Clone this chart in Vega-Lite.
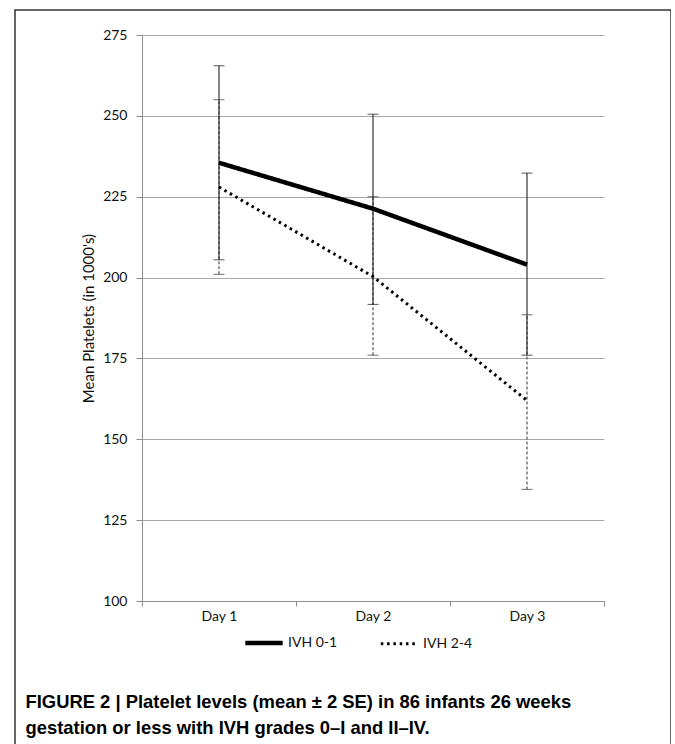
{
  "$schema": "https://vega.github.io/schema/vega-lite/v6.json",
  "autosize": "none",
  "padding": {"left": 15, "top": 10, "right": 0, "bottom": 0},
  "width": 656,
  "height": 745,
  "background": "white",
  "config": {
    "view": {"stroke": "#333333", "strokeWidth": 1.5},
    "font": "Lato",
    "axis": {
      "labelFont": "Lato",
      "labelFontSize": 14,
      "labelColor": "#111111",
      "domainColor": "#8c8c8c",
      "tickColor": "#8c8c8c",
      "gridColor": "#a8a8a8",
      "gridWidth": 1,
      "titleFont": "Lato",
      "titleFontWeight": "normal",
      "titleFontSize": 15,
      "titleColor": "#111111"
    }
  },
  "data": {
    "values": [
      {"day": "Day 1", "group": "IVH 2-4", "mean": 228, "lo": 201, "hi": 255},
      {"day": "Day 2", "group": "IVH 2-4", "mean": 200.3, "lo": 176, "hi": 225},
      {"day": "Day 3", "group": "IVH 2-4", "mean": 162, "lo": 134.5, "hi": 188.5},
      {"day": "Day 1", "group": "IVH 0-1", "mean": 235.5, "lo": 205.5, "hi": 265.5},
      {"day": "Day 2", "group": "IVH 0-1", "mean": 221.3, "lo": 191.7, "hi": 250.5},
      {"day": "Day 3", "group": "IVH 0-1", "mean": 204, "lo": 176, "hi": 232.3}
    ]
  },
  "encoding": {
    "x": {
      "field": "day",
      "type": "ordinal",
      "scale": {"range": [127, 589], "paddingInner": 0, "paddingOuter": 0},
      "axis": {
        "orient": "bottom",
        "offset": -154,
        "tickBand": "extent",
        "tickSize": 5,
        "labelPadding": 3,
        "labelAngle": 0,
        "grid": false,
        "title": ["FIGURE 2 | Platelet levels (mean ± 2 SE) in 86 infants 26 weeks", "gestation or less with IVH grades 0–I and II–IV."],
        "titleX": 10,
        "titleY": 106,
        "titleAlign": "left",
        "titleBaseline": "alphabetic",
        "titleFont": "Liberation Sans",
        "titleFontWeight": "bold",
        "titleFontSize": 18.4,
        "titleLineHeight": 26,
        "titleColor": "#000000"
      }
    }
  },
  "layer": [
    {
      "transform": [{"filter": "datum.group === 'IVH 2-4'"}],
      "mark": {"type": "rule", "color": "#444444", "strokeWidth": 1.1, "strokeDash": [3, 2]},
      "encoding": {
        "y": {
          "field": "lo",
          "type": "quantitative",
          "title": "Mean Platelets (in 1000's)",
          "scale": {"domain": [100, 275], "range": [591, 25], "nice": false, "zero": false},
          "axis": {
            "orient": "left",
            "offset": -127,
            "values": [100, 125, 150, 175, 200, 225, 250, 275],
            "grid": true,
            "tickSize": 6,
            "labelPadding": 9,
            "titlePadding": 6
          }
        },
        "y2": {"field": "hi"}
      }
    },
    {
      "transform": [{"filter": "datum.group === 'IVH 2-4'"}],
      "mark": {"type": "tick", "color": "#444444", "size": 11, "thickness": 1.1},
      "encoding": {"y": {"field": "lo", "type": "quantitative", "title": "Mean Platelets (in 1000's)"}}
    },
    {
      "transform": [{"filter": "datum.group === 'IVH 2-4'"}],
      "mark": {"type": "tick", "color": "#444444", "size": 11, "thickness": 1.1},
      "encoding": {"y": {"field": "hi", "type": "quantitative", "title": "Mean Platelets (in 1000's)"}}
    },
    {
      "transform": [{"filter": "datum.group === 'IVH 0-1'"}],
      "mark": {"type": "rule", "color": "#222222", "strokeWidth": 1.1},
      "encoding": {
        "y": {"field": "lo", "type": "quantitative", "title": "Mean Platelets (in 1000's)"},
        "y2": {"field": "hi"}
      }
    },
    {
      "transform": [{"filter": "datum.group === 'IVH 0-1'"}],
      "mark": {"type": "tick", "color": "#222222", "size": 11, "thickness": 1.1},
      "encoding": {"y": {"field": "lo", "type": "quantitative", "title": "Mean Platelets (in 1000's)"}}
    },
    {
      "transform": [{"filter": "datum.group === 'IVH 0-1'"}],
      "mark": {"type": "tick", "color": "#222222", "size": 11, "thickness": 1.1},
      "encoding": {"y": {"field": "hi", "type": "quantitative", "title": "Mean Platelets (in 1000's)"}}
    },
    {
      "mark": {"type": "line", "color": "#000000"},
      "encoding": {
        "y": {"field": "mean", "type": "quantitative", "title": "Mean Platelets (in 1000's)"},
        "strokeDash": {
          "field": "group",
          "type": "ordinal",
          "scale": {"domain": ["IVH 0-1", "IVH 2-4"], "range": [[1, 0], [2.5, 3.8]]},
          "legend": {
            "title": null,
            "orient": "none",
            "legendX": 228,
            "legendY": 612,
            "direction": "horizontal",
            "symbolType": "stroke",
            "symbolSize": 1400,
            "symbolStrokeColor": "#000000",
            "labelFont": "Lato",
            "labelFontSize": 14,
            "labelColor": "#111111",
            "labelOffset": 3,
            "columnPadding": 36
          }
        },
        "strokeWidth": {
          "field": "group",
          "type": "ordinal",
          "scale": {"domain": ["IVH 0-1", "IVH 2-4"], "range": [4.5, 3]},
          "legend": {
            "title": null,
            "orient": "none",
            "legendX": 228,
            "legendY": 612,
            "direction": "horizontal",
            "symbolType": "stroke",
            "symbolSize": 1400,
            "symbolStrokeColor": "#000000",
            "labelFont": "Lato",
            "labelFontSize": 14,
            "labelColor": "#111111",
            "labelOffset": 3,
            "columnPadding": 36
          }
        }
      }
    }
  ]
}
